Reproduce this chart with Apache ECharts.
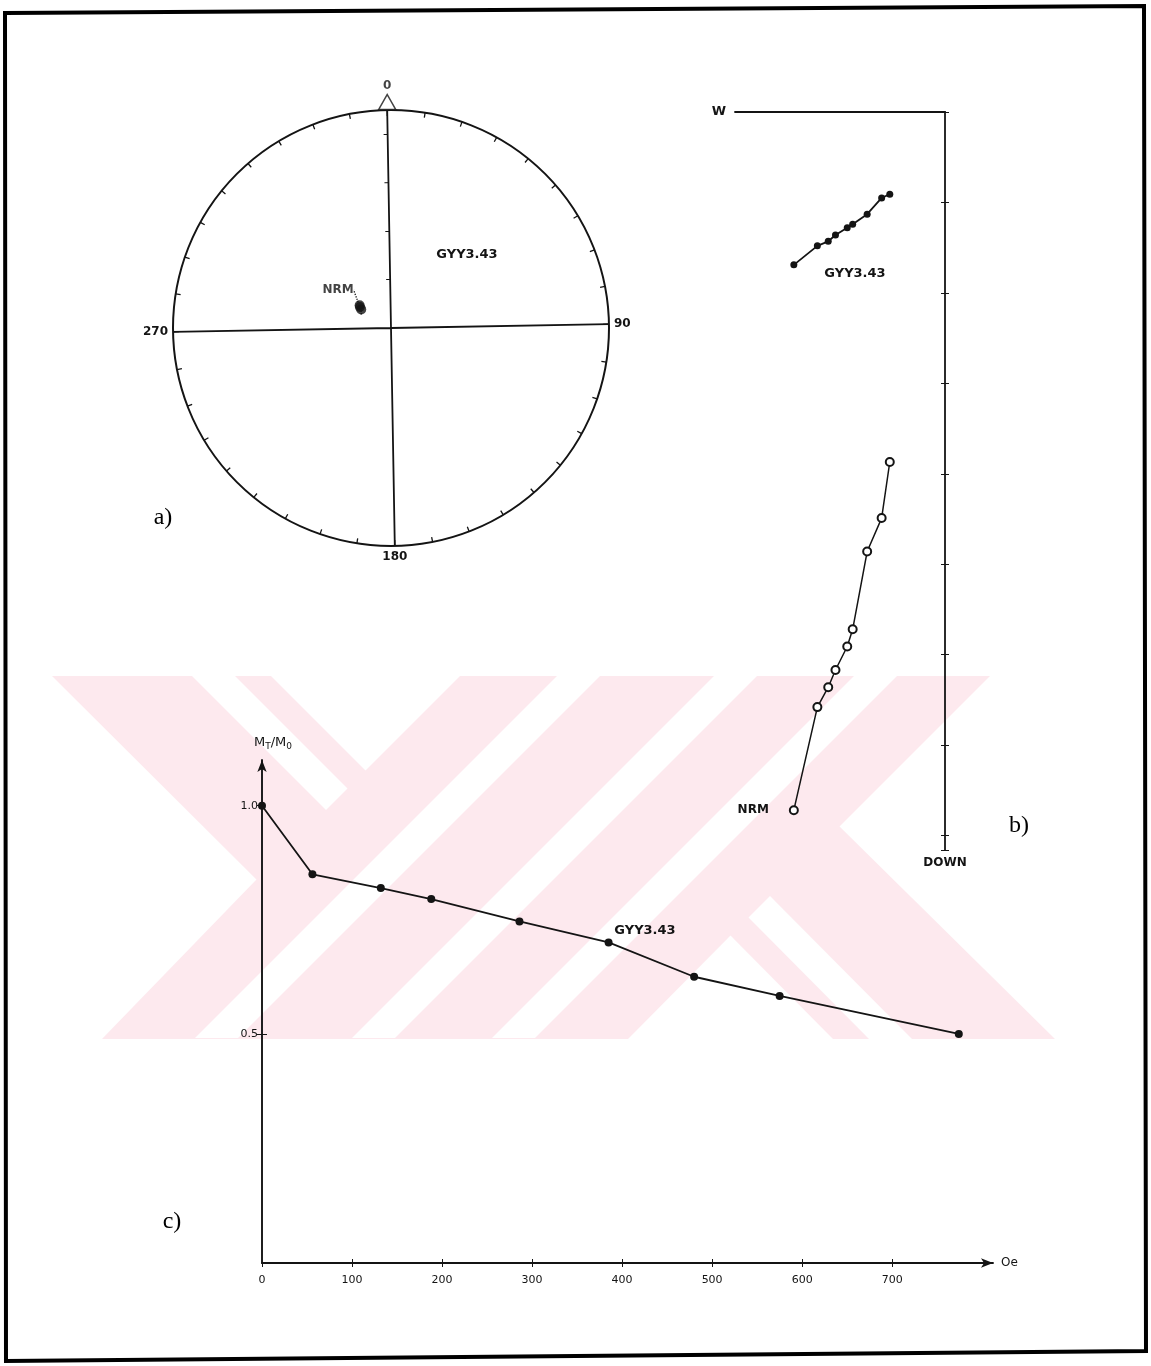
<!DOCTYPE html>
<html>
<head>
<meta charset="utf-8">
<script src="https://cdn.jsdelivr.net/npm/echarts@6/dist/echarts.min.js"></script>
<style>
  html, body { margin: 0; padding: 0; background: #ffffff; }
  #chart { width: 1151px; height: 1366px; }
</style>
</head>
<body>
<div id="chart"></div>
<script>
// a) equal-area net: NRM cluster directions (declination, inclination in degrees)
const netDec = [305, 307, 303];
const netInc = [74.5, 74.0, 75.5];

// b) orthogonal projection, per demagnetisation step (NRM first)
const zijW    = [1.67, 1.41, 1.29, 1.21, 1.08, 1.02, 0.86, 0.70, 0.61];
const zijHorz = [1.69, 1.48, 1.43, 1.36, 1.28, 1.24, 1.13, 0.95, 0.91];
const zijDown = [7.72, 6.58, 6.36, 6.17, 5.91, 5.72, 4.86, 4.49, 3.87];

// c) alternating-field demagnetisation curve
const afField = [0, 56, 132, 188, 286, 385, 480, 575, 774];
const afRatio = [1.0, 0.85, 0.82, 0.796, 0.747, 0.701, 0.626, 0.584, 0.501];
const fieldTicks = [0, 100, 200, 300, 400, 500, 600, 700];
const ratioTicks = [0.5, 1.0];

const ink = '#141414';
const plotFont = 'DejaVu Sans';
const labelFont = 'bold 13px "DejaVu Sans"';
const tint = '#fde9ee';

const chart = echarts.init(document.getElementById('chart'), null, { renderer: 'canvas' });

const zip = (a, b) => a.map((v, i) => [v, b[i]]);

// pale background emblem: a band with notched ends crossed by diagonal gaps
const emblemBase = [[52, 676], [990, 676], [839.5, 826.5], [1055, 1039], [102, 1039], [256.5, 879.5]];
const emblemGaps = [
  [[192, 676], [235, 676], [347.5, 788.5], [326, 810]],
  [[271, 676], [460, 676], [365.5, 770.5]],
  [[557, 676], [600, 676], [238, 1038], [195, 1038]],
  [[714, 676], [757, 676], [395, 1038], [352, 1038]],
  [[854, 676], [897, 676], [535, 1038], [492, 1038]],
  [[628, 1039], [833, 1039], [730.5, 935.5]],
  [[748.5, 917.5], [770, 896], [912, 1039], [869, 1039]]
];

const emblem = [
  { type: 'polygon', silent: true, z: -20, shape: { points: emblemBase }, style: { fill: tint } }
].concat(emblemGaps.map(pts => ({
  type: 'polygon', silent: true, z: -19, shape: { points: pts }, style: { fill: '#ffffff' }
})));

// second copies of axes carry the inner half of the cross-shaped ticks
const innerTickAxis = (extra) => Object.assign({
  type: 'value', axisLine: { show: false }, axisLabel: { show: false }, splitLine: { show: false }
}, extra);

const option = {
  backgroundColor: '#ffffff',
  animation: false,
  textStyle: { fontFamily: plotFont, color: ink },
  polar: { center: [391, 328], radius: 218 },
  angleAxis: {
    type: 'value', min: 0, max: 360, interval: 90,
    startAngle: 91, clockwise: true,
    axisLine: { lineStyle: { color: ink, width: 2 } },
    axisTick: { show: true, inside: true, length: 6, lineStyle: { color: ink, width: 1.3 } },
    minorTick: { show: true, splitNumber: 9, length: 5, lineStyle: { color: ink, width: 1.3 } },
    axisLabel: {
      margin: 5, color: ink, fontSize: 12, fontWeight: 'bold', fontFamily: plotFont,
      formatter: v => (v === 0 || v === 360) ? '' : String(v)
    },
    splitLine: { show: true, lineStyle: { color: ink, width: 1.8 } }
  },
  radiusAxis: {
    type: 'value', min: 0, max: 90, interval: 20,
    axisLine: { show: false },
    axisTick: { show: true, length: 4, lineStyle: { color: ink } },
    axisLabel: { show: false },
    splitLine: { show: false }
  },
  grid: [
    { left: 262, right: 158, top: 760, bottom: 103 },
    { left: 735, right: 206, top: 112, bottom: 516 }
  ],
  xAxis: [
    {
      gridIndex: 0, type: 'value', min: 0, max: 812,
      axisLine: { onZero: false, symbol: ['none', 'arrow'], symbolSize: [7, 12], lineStyle: { color: ink, width: 1.9 } },
      axisTick: { customValues: fieldTicks, length: 4, lineStyle: { color: ink } },
      axisLabel: { customValues: fieldTicks, color: ink, fontSize: 11, margin: 12, fontFamily: plotFont },
      splitLine: { show: false },
      name: 'Oe', nameLocation: 'end', nameGap: 8,
      nameTextStyle: { color: ink, fontSize: 12, fontFamily: plotFont }
    },
    {
      gridIndex: 1, type: 'value', min: 0, max: 2.32, inverse: true, position: 'top',
      axisLine: { onZero: false, lineStyle: { color: ink, width: 1.8 } },
      axisTick: { show: false }, axisLabel: { show: false }, splitLine: { show: false },
      name: 'W', nameLocation: 'end', nameGap: 9,
      nameTextStyle: { color: ink, fontSize: 13, fontWeight: 'bold', fontFamily: plotFont }
    },
    innerTickAxis({
      gridIndex: 0, min: 0, max: 812, position: 'bottom',
      axisTick: { customValues: fieldTicks.slice(1), inside: true, length: 4, lineStyle: { color: ink } }
    })
  ],
  yAxis: [
    {
      gridIndex: 0, type: 'value', min: 0, max: 1.1,
      axisLine: { onZero: false, symbol: ['none', 'arrow'], symbolSize: [7, 12], lineStyle: { color: ink, width: 1.9 } },
      axisTick: { customValues: ratioTicks, length: 5, lineStyle: { color: ink } },
      axisLabel: { customValues: ratioTicks, color: ink, fontSize: 11, margin: 4, fontFamily: plotFont,
                   formatter: v => v.toFixed(1) },
      splitLine: { show: false },
      name: '{m|M}{s|T}{m|/M}{s|0}', nameLocation: 'end', nameGap: 9,
      nameTextStyle: {
        align: 'left', padding: [0, 0, 0, -8],
        rich: {
          m: { fontSize: 13, fontFamily: plotFont, color: ink },
          s: { fontSize: 9, fontFamily: plotFont, color: ink, verticalAlign: 'bottom', padding: [7, 0, 0, 0] }
        }
      }
    },
    {
      gridIndex: 1, type: 'value', min: 0, max: 8.16, inverse: true, position: 'right', interval: 1,
      axisLine: { onZero: false, lineStyle: { color: ink, width: 1.8 } },
      axisTick: { length: 4, lineStyle: { color: ink } },
      axisLabel: { show: false }, splitLine: { show: false },
      name: 'DOWN', nameLocation: 'end', nameGap: 7,
      nameTextStyle: { color: ink, fontSize: 12, fontWeight: 'bold', fontFamily: plotFont }
    },
    innerTickAxis({
      gridIndex: 1, min: 0, max: 8.16, inverse: true, position: 'right', interval: 1,
      axisTick: { inside: true, length: 4, lineStyle: { color: ink } }
    }),
    innerTickAxis({
      gridIndex: 0, min: 0, max: 1.1, position: 'left',
      axisTick: { customValues: [0.5], inside: true, length: 5, lineStyle: { color: ink } }
    })
  ],
  series: [
    {
      // north marker of the net
      type: 'scatter', coordinateSystem: 'polar',
      data: [[90, 0]],
      symbol: 'triangle', symbolSize: [17, 15], symbolOffset: [0, -8],
      itemStyle: { color: '#ffffff', borderColor: ink, borderWidth: 1.5 },
      label: { show: true, position: 'top', distance: 2, formatter: '0', color: ink,
               fontSize: 12, fontWeight: 'bold', fontFamily: plotFont },
      silent: true, z: 5
    },
    {
      type: 'scatter', coordinateSystem: 'polar',
      data: netDec.map((d, i) => [90 - netInc[i], d]),
      symbol: 'circle', symbolSize: 10,
      itemStyle: { color: ink },
      label: {
        show: true, color: ink, fontSize: 12, fontWeight: 'bold', fontFamily: plotFont,
        formatter: p => p.dataIndex === 0 ? 'NRM' : ''
      },
      labelLayout: p => p.dataIndex === 0 ? { x: 338, y: 290, align: 'center', verticalAlign: 'middle' } : {},
      labelLine: { show: true, lineStyle: { color: ink, type: 'dotted', width: 1.3 } },
      z: 6
    },
    {
      type: 'line', xAxisIndex: 1, yAxisIndex: 1,
      data: zip(zijW, zijHorz),
      symbol: 'circle', symbolSize: 7,
      lineStyle: { color: ink, width: 1.8 },
      itemStyle: { color: ink }
    },
    {
      type: 'line', xAxisIndex: 1, yAxisIndex: 1,
      data: zip(zijW, zijDown),
      symbol: 'emptyCircle', symbolSize: 8,
      lineStyle: { color: ink, width: 1.5 },
      itemStyle: { color: ink, borderColor: ink, borderWidth: 1.8 },
      label: {
        show: true, position: 'left', distance: 20, color: ink, fontSize: 12, fontWeight: 'bold', fontFamily: plotFont,
        formatter: p => p.dataIndex === 0 ? 'NRM' : ''
      }
    },
    {
      type: 'line', xAxisIndex: 0, yAxisIndex: 0,
      data: zip(afField, afRatio),
      symbol: 'circle', symbolSize: 8,
      lineStyle: { color: ink, width: 1.8 },
      itemStyle: { color: ink }
    }
  ],
  graphic: emblem.concat([
    {
      type: 'polygon', silent: true, z: 100,
      shape: { points: [[5, 13], [1144, 6], [1146, 1351], [6, 1361]] },
      style: { fill: 'none', stroke: '#000', lineWidth: 4 }
    },
    { type: 'text', x: 467, y: 255, silent: true,
      style: { text: 'GYY3.43', fill: ink, font: labelFont, textAlign: 'center', textVerticalAlign: 'middle' } },
    { type: 'text', x: 855, y: 274, silent: true,
      style: { text: 'GYY3.43', fill: ink, font: labelFont, textAlign: 'center', textVerticalAlign: 'middle' } },
    { type: 'text', x: 645, y: 931, silent: true,
      style: { text: 'GYY3.43', fill: ink, font: labelFont, textAlign: 'center', textVerticalAlign: 'middle' } },
    { type: 'text', x: 163, y: 518, silent: true,
      style: { text: 'a)', fill: '#000', font: '24px "Liberation Serif"', textAlign: 'center', textVerticalAlign: 'middle' } },
    { type: 'text', x: 1019, y: 826, silent: true,
      style: { text: 'b)', fill: '#000', font: '24px "Liberation Serif"', textAlign: 'center', textVerticalAlign: 'middle' } },
    { type: 'text', x: 172, y: 1222, silent: true,
      style: { text: 'c)', fill: '#000', font: '24px "Liberation Serif"', textAlign: 'center', textVerticalAlign: 'middle' } }
  ])
};

chart.setOption(option);
</script>
</body>
</html>
